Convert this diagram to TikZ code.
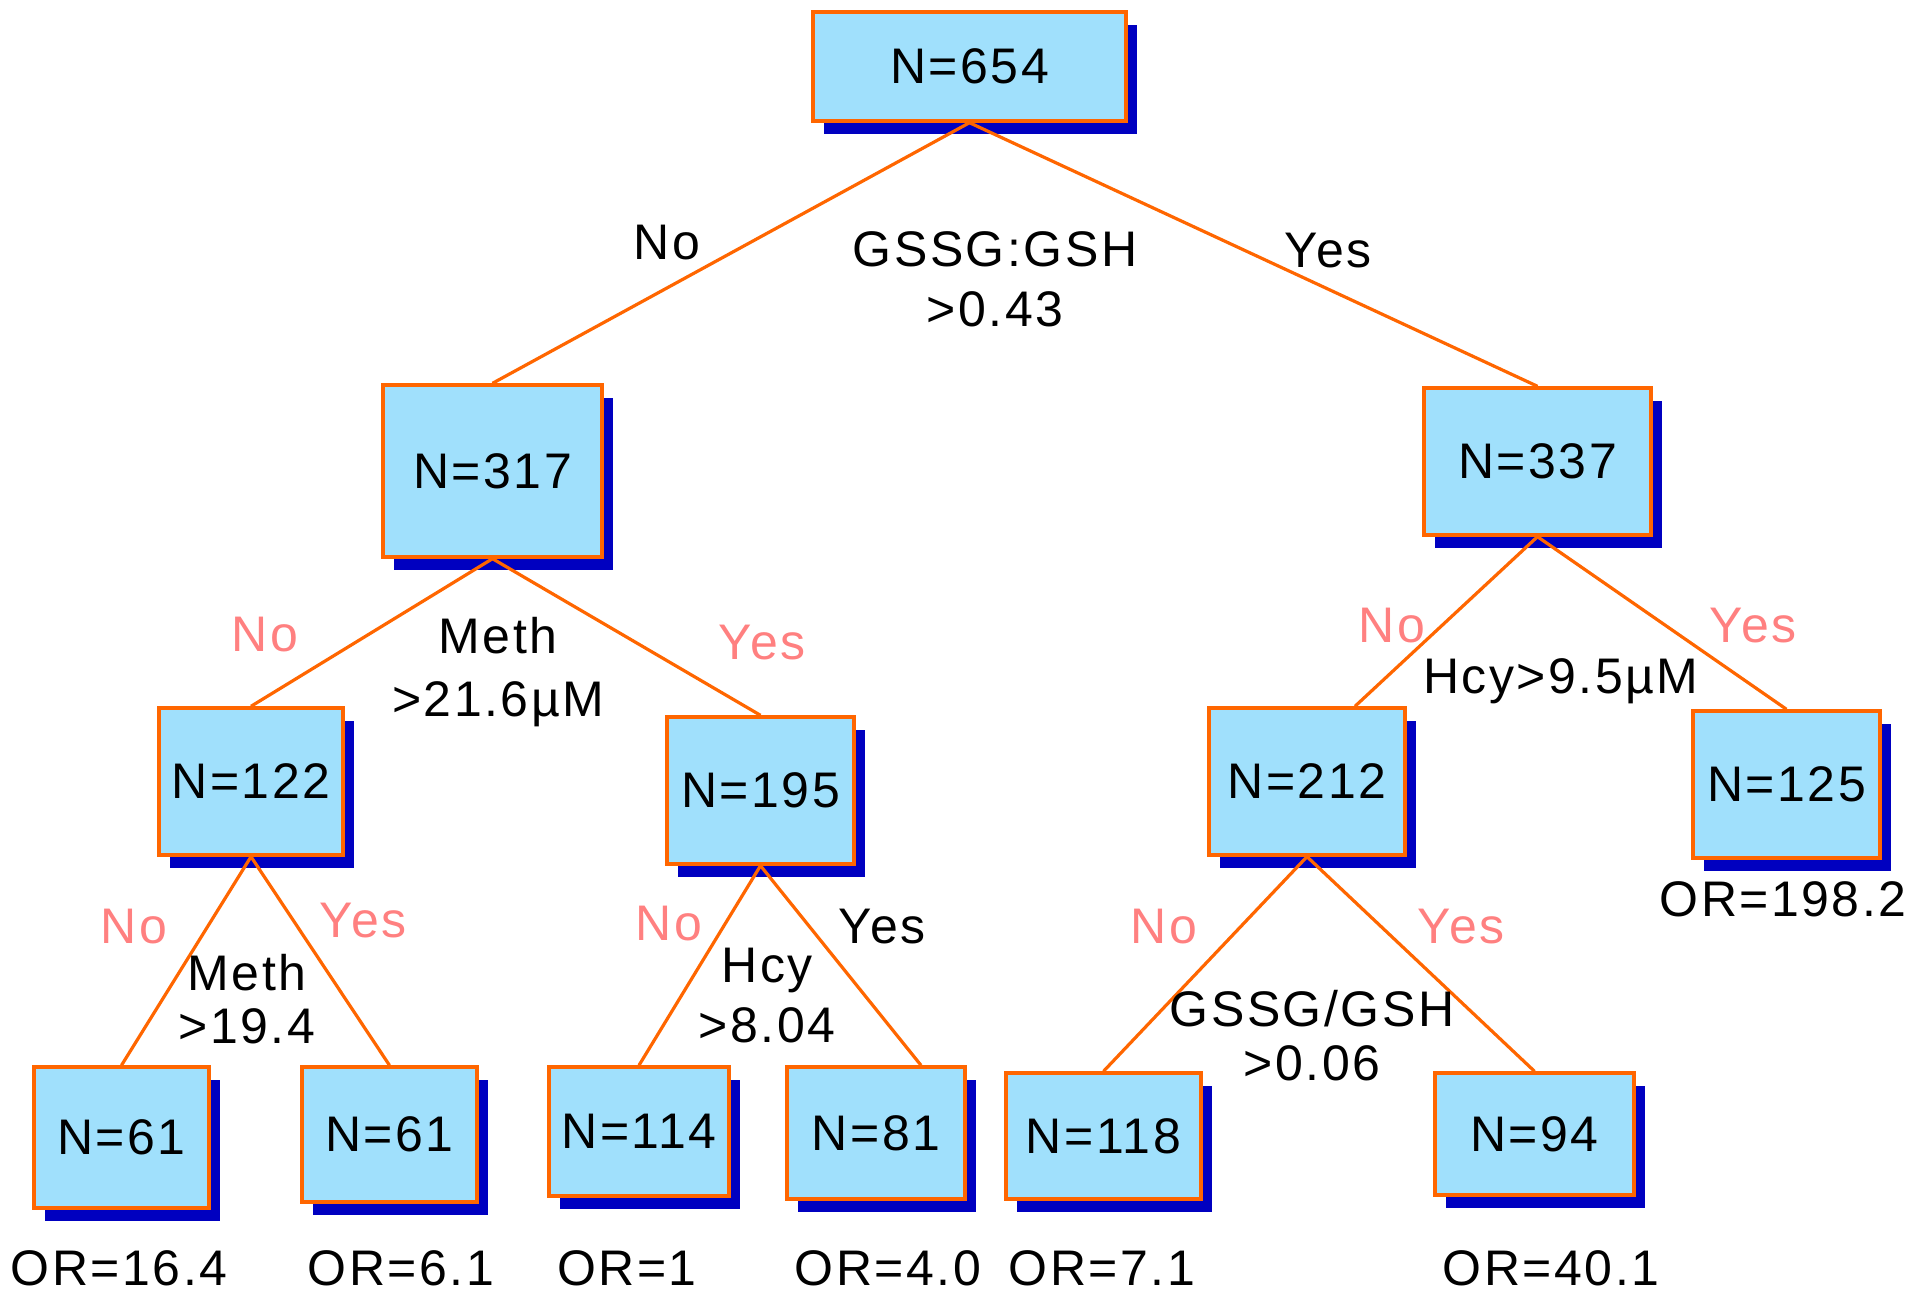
\documentclass[tikz,border=0pt]{standalone}
\usepackage{fontspec}
\setmainfont{Liberation Sans}[LetterSpace=5]
\usetikzlibrary{shadows}
\definecolor{boxfill}{HTML}{A0E0FC}
\definecolor{boxline}{HTML}{FF6600}
\definecolor{shadowblue}{HTML}{0000C0}
\definecolor{pinklabel}{HTML}{FF8080}
\begin{document}
\begin{tikzpicture}[x=0.5pt,y=-0.5pt,
  box/.style={draw=boxline, line width=1.7pt, fill=boxfill, inner sep=0pt,
    general shadow={fill=shadowblue, shadow xshift=5.5pt, shadow yshift=-6.5pt},
    font=\fontsize{25}{30}\selectfont},
  link/.style={draw=boxline, line width=1.6pt},
  lab/.style={inner sep=0pt, anchor=base, font=\fontsize{25}{30}\selectfont},
  plab/.style={lab, text=pinklabel},
  mlab/.style={inner sep=0pt, align=center, text depth=0pt}
]
\useasboundingbox (0,0) rectangle (1908,1295);

% boxes
\node[box, minimum width=156.5pt, minimum height=54.5pt] (n654) at (969.5,66.5) {\raisebox{-1.5pt}{N=654}};
\node[box, minimum width=109.5pt, minimum height=86pt] (n317) at (492.5,471) {N=317};
\node[box, minimum width=113.5pt, minimum height=73.5pt] (n337) at (1537.5,461.5) {N=337};
\node[box, minimum width=92pt, minimum height=73.5pt] (n122) at (251,781.5) {N=122};
\node[box, minimum width=93.5pt, minimum height=73.5pt] (n195) at (760.5,790.5) {N=195};
\node[box, minimum width=98pt, minimum height=73.5pt] (n212) at (1307,781.5) {N=212};
\node[box, minimum width=93.5pt, minimum height=73.5pt] (n125) at (1786.5,784.5) {N=125};
\node[box, minimum width=87.5pt, minimum height=70.5pt] (n61a) at (121.5,1137.5) {N=61};
\node[box, minimum width=87.5pt, minimum height=67.5pt] (n61b) at (389.5,1134.5) {N=61};
\node[box, minimum width=90pt, minimum height=64.5pt] (n114) at (639,1131.5) {N=114};
\node[box, minimum width=89pt, minimum height=66pt] (n81) at (876,1133) {N=81};
\node[box, minimum width=97.5pt, minimum height=63pt] (n118) at (1103.5,1136) {N=118};
\node[box, minimum width=99.5pt, minimum height=61pt] (n94) at (1534.5,1134) {N=94};

% connectors
\draw[link] (n654.south) -- (n317.north);
\draw[link] (n654.south) -- (n337.north);
\draw[link] (n317.south) -- (n122.north);
\draw[link] (n317.south) -- (n195.north);
\draw[link] (n337.south) -- ([xshift=24pt]n212.north);
\draw[link] (n337.south) -- (n125.north);
\draw[link] (n122.south) -- (n61a.north);
\draw[link] (n122.south) -- (n61b.north);
\draw[link] (n195.south) -- (n114.north);
\draw[link] (n195.south) -- ([xshift=22.5pt]n81.north);
\draw[link] (n212.south) -- (n118.north);
\draw[link] (n212.south) -- (n94.north);

% branch labels
\node[lab] (l1no) at (667,259) {No};
\node[lab] (l1yes) at (1328,267) {Yes};
\node[mlab, font=\fontsize{25}{30}\selectfont] (c1) at (995,279) {GSSG:GSH\\>0.43};

\node[plab] (l2no) at (265,651) {No};
\node[plab] (l2yes) at (762,659) {Yes};
\node[mlab, font=\fontsize{25}{31.5}\selectfont] (c2) at (498,666.5) {Meth\\>21.6µM};

\node[plab] (l3no) at (1392,642) {No};
\node[plab] (l3yes) at (1753,642) {Yes};
\node[lab] (c3) at (1561,693) {Hcy>9.5µM};

\node[plab] (l4no) at (134,943) {No};
\node[plab] (l4yes) at (363,937) {Yes};
\node[mlab, font=\fontsize{25}{26.5}\selectfont] (c4) at (247,998.5) {Meth\\>19.4};

\node[plab] (l5no) at (669,940) {No};
\node[lab] (l5yes) at (882,943) {Yes};
\node[mlab, font=\fontsize{25}{30}\selectfont] (c5) at (767,995) {Hcy\\>8.04};

\node[plab] (l6no) at (1164,943) {No};
\node[plab] (l6yes) at (1461,943) {Yes};
\node[mlab, font=\fontsize{25}{27}\selectfont] (c6) at (1312,1035) {GSSG/GSH\\>0.06};

% odds ratios
\node[lab] (or125) at (1783,916) {OR=198.2};
\node[lab, text depth=0pt] (or61a) at (119,1285) {OR=16.4};
\node[lab, text depth=0pt] (or61b) at (401,1285) {OR=6.1};
\node[lab, text depth=0pt] (or114) at (627,1285) {OR=1};
\node[lab, text depth=0pt] (or81) at (888,1285) {OR=4.0};
\node[lab, text depth=0pt] (or118) at (1102,1285) {OR=7.1};
\node[lab, text depth=0pt] (or94) at (1551,1285) {OR=40.1};
\end{tikzpicture}
\end{document}
